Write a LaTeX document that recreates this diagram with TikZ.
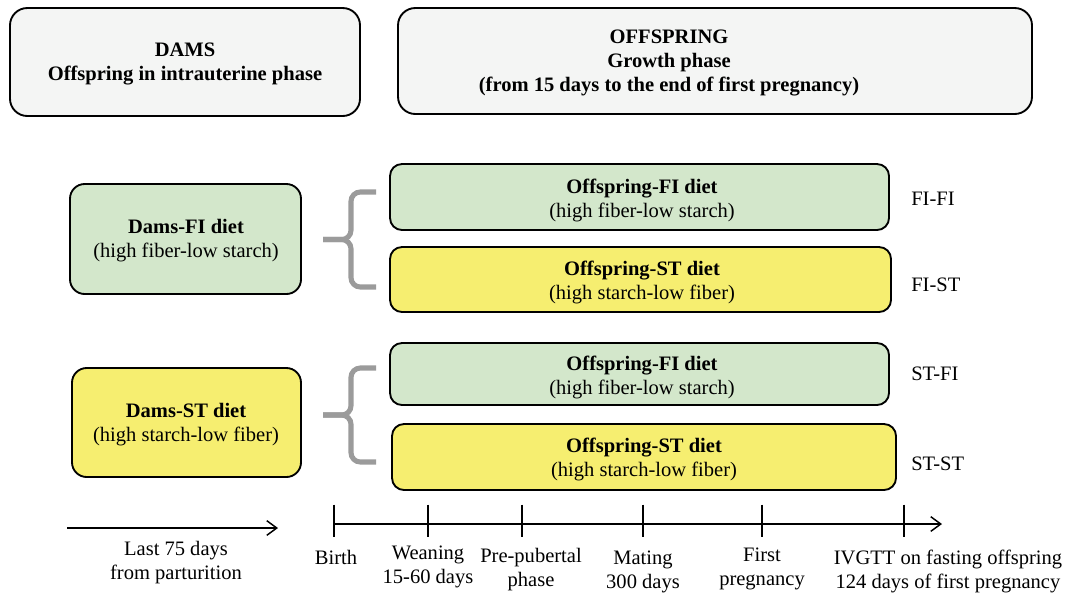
\documentclass[tikz,border=0pt]{standalone}
\usepackage{fontspec}
\setmainfont{Liberation Serif}
\usetikzlibrary{fit,arrows.meta}
\definecolor{boxgray}{HTML}{F4F5F4}
\definecolor{dietgreen}{HTML}{D3E7CB}
\definecolor{dietyellow}{HTML}{F6EE70}
\definecolor{bracegray}{HTML}{9B9B9B}
\newcommand{\myfs}{\fontsize{15.4}{18}\selectfont}
\tikzset{
  basebox/.style={draw=black, line width=1.4pt, inner sep=0pt, align=center},
  topbox/.style={basebox, fill=boxgray, rounded corners=13pt},
  greenbox/.style={basebox, fill=dietgreen, rounded corners=11pt},
  yellowbox/.style={basebox, fill=dietyellow, rounded corners=11pt},
  offgreen/.style={basebox, fill=dietgreen, rounded corners=9pt},
  offyellow/.style={basebox, fill=dietyellow, rounded corners=9pt},
  txt/.style={align=center, inner sep=0pt, font=\myfs},
  boldtxt/.style={align=center, inner sep=0pt, font=\myfs\bfseries},
  grouplabel/.style={anchor=west, inner sep=0pt, font=\myfs},
  curly/.style={draw=bracegray, line width=3.8pt, rounded corners=7pt},
  tline/.style={line width=1.1pt, -{Straight Barb[length=7.5pt,width=11pt,line width=1.1pt]}},
  tick/.style={line width=1.1pt},
}
\begin{document}
\begin{tikzpicture}[x=0.75pt,y=-0.75pt]
\useasboundingbox (0,0) rectangle (1066,594);
% top boxes
\node[topbox, fit={(10,8) (360,116)}] (dams) {};
\node[boldtxt] (damstxt) at (185,63.5) {DAMS\\Offspring in intrauterine phase};
\node[topbox, fit={(398,8) (1032,114)}] (off) {};
\node[boldtxt] (offtxt) at (669,62.5) {OFFSPRING\\Growth phase\\(from 15 days to the end of first pregnancy)};
% dams diet boxes
\node[greenbox, fit={(70,184) (301,294)}] (dfi) {};
\node[txt] at (186,241) {\textbf{Dams-FI diet}\\(high fiber-low starch)};
\node[yellowbox, fit={(72,368) (301,477)}] (dst) {};
\node[txt] at (186,424.5) {\textbf{Dams-ST diet}\\(high starch-low fiber)};
% offspring boxes
\node[offgreen, fit={(390,164) (889,230)}] (o1) {};
\node[txt] at (642,200) {\textbf{Offspring-FI diet}\\(high fiber-low starch)};
\node[offyellow, fit={(390,247) (891,312)}] (o2) {};
\node[txt] at (642,282.5) {\textbf{Offspring-ST diet}\\(high starch-low fiber)};
\node[offgreen, fit={(390,343) (889,405)}] (o3) {};
\node[txt] at (642,377) {\textbf{Offspring-FI diet}\\(high fiber-low starch)};
\node[offyellow, fit={(392,424) (896,490)}] (o4) {};
\node[txt] at (644,459.5) {\textbf{Offspring-ST diet}\\(high starch-low fiber)};
% group labels
\node[grouplabel] (l1) at (911,199) {FI-FI};
\node[grouplabel] (l2) at (911,285) {FI-ST};
\node[grouplabel] (l3) at (911,374) {ST-FI};
\node[grouplabel] (l4) at (911,464) {ST-ST};
% braces
\draw[curly] (376,192) -- (351,192) -- (351,239.5) -- (323,239.5);
\draw[curly] (323,239.5) -- (351,239.5) -- (351,287) -- (376,287);
\draw[curly] (376,368) -- (351,368) -- (351,415) -- (323,415);
\draw[curly] (323,415) -- (351,415) -- (351,462) -- (376,462);
% left arrow
\coordinate (a0) at (67,528);
\coordinate (a1) at (278,528);
\draw[tline] (a0) -- (a1);
\node[txt] (lastlbl) at (176,562.5) {Last 75 days\\from parturition};
% main timeline
\coordinate (tb) at (334,524);
\coordinate (tw) at (428,524);
\coordinate (tp) at (522,524);
\coordinate (tm) at (643,524);
\coordinate (tf) at (762,524);
\coordinate (ti) at (904,524);
\coordinate (tend) at (942,524);
\draw[tline] (tb) -- (tend);
\foreach \c in {tb,tw,tp,tm,tf,ti}{
  \draw[tick] ([yshift=14.5pt]\c) -- ([yshift=-10pt]\c);
}
\node[txt] (birth) at (336,557) {Birth};
\node[txt] (wean) at (428,567) {Weaning\\15-60 days};
\node[txt] (prep) at (531,570) {Pre-pubertal\\phase};
\node[txt] (mate) at (643,571.5) {Mating\\300 days};
\node[txt] (first) at (762,568.5) {First\\pregnancy};
\node[txt] (ivgtt) at (948,571.5) {IVGTT on fasting offspring\\124 days of first pregnancy};
\end{tikzpicture}
\end{document}
